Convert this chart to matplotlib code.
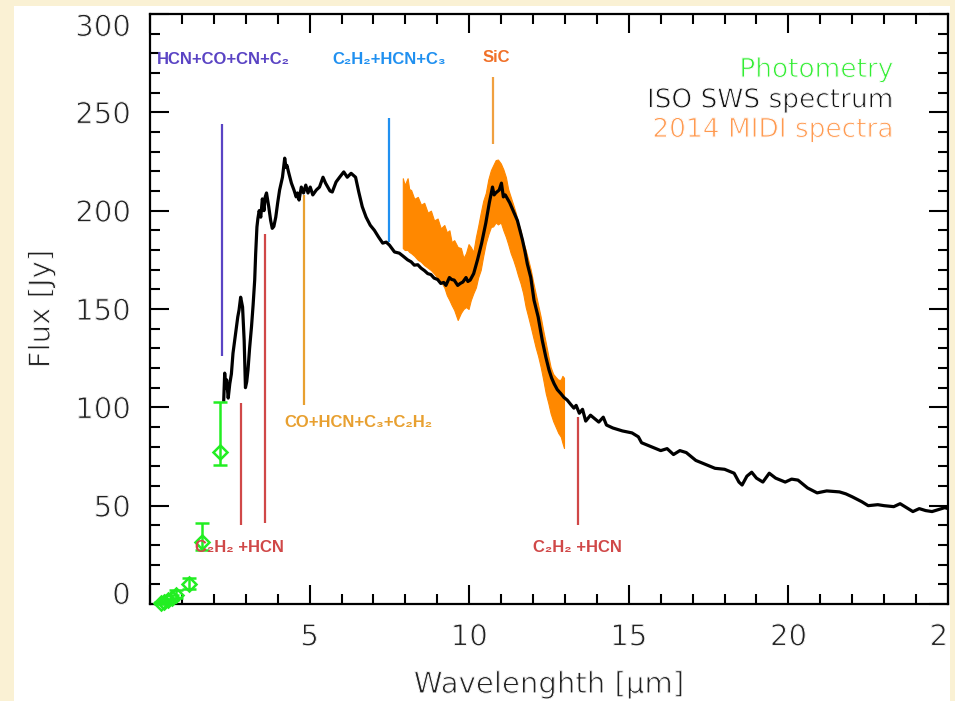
import numpy as np
import matplotlib
matplotlib.use("Agg")
import matplotlib.pyplot as plt
import matplotlib.patheffects as pe
from matplotlib.patches import Rectangle
from matplotlib.ticker import MultipleLocator
from matplotlib.transforms import Bbox, TransformedBbox

# ISO SWS spectrum (wavelength in micron, flux in Jy)
iso_wl = [2.31, 2.34, 2.37, 2.40, 2.45, 2.50, 2.55, 2.60, 2.66, 2.71, 2.75, 2.79, 2.84, 2.90,
          2.95, 2.99, 3.03, 3.07, 3.12, 3.18, 3.23, 3.28, 3.31, 3.35, 3.38, 3.42, 3.47, 3.52,
          3.57, 3.61, 3.65, 3.72, 3.78, 3.83, 3.88, 3.94, 4.00, 4.06, 4.15, 4.22, 4.26, 4.29,
          4.35, 4.43, 4.51, 4.58, 4.62, 4.67, 4.74, 4.81, 4.88, 4.95, 5.02, 5.10, 5.21, 5.31,
          5.42, 5.50, 5.57, 5.64, 5.71, 5.83, 5.94, 6.07, 6.18, 6.30, 6.44, 6.54, 6.65, 6.77,
          6.90, 7.03, 7.16, 7.29, 7.40, 7.50, 7.66, 7.81, 7.92, 8.07, 8.18, 8.28, 8.39, 8.49,
          8.60, 8.70, 8.80, 8.90, 9.01, 9.11, 9.20, 9.27, 9.38, 9.45, 9.53, 9.64, 9.72, 9.80,
          9.90, 9.96, 10.03, 10.14, 10.26, 10.39, 10.52, 10.63, 10.73, 10.78, 10.83, 10.94,
          11.01, 11.07, 11.13, 11.20, 11.27, 11.35, 11.43, 11.51, 11.59, 11.67, 11.75, 11.82,
          11.93, 12.03, 12.16, 12.29, 12.40, 12.50, 12.58, 12.66, 12.76, 12.87, 12.97, 13.07,
          13.18, 13.28, 13.35, 13.45, 13.55, 13.65, 13.80, 13.95, 14.06, 14.20, 14.30, 14.50,
          14.80, 15.10, 15.30, 15.40, 15.70, 16.00, 16.20, 16.40, 16.60, 16.80, 16.95, 17.10,
          17.40, 17.70, 18.00, 18.30, 18.45, 18.55, 18.70, 18.85, 19.00, 19.20, 19.40, 19.60,
          19.90, 20.10, 20.30, 20.60, 20.90, 21.20, 21.60, 21.80, 22.00, 22.30, 22.50, 22.80,
          23.00, 23.30, 23.50, 23.70, 23.90, 24.10, 24.30, 24.50, 24.70, 24.90, 25.10]
iso_flux = [103.7, 117.4, 110, 114, 104.7, 112, 117, 127.5, 135, 141, 146, 149.5, 156, 151,
            134, 110, 113, 119, 130, 141, 152, 164.7, 178, 191.7, 196, 200, 196.7, 206,
            200, 207, 209, 202, 195, 191, 192, 196.7, 204, 210.5, 217, 226.7, 222, 223,
            219, 214, 210.5, 207, 209, 205.4, 212, 209, 213, 209, 212, 208, 210.5, 212,
            217, 214, 212, 210, 209.5, 214.6, 217, 219.7, 217, 219, 217, 209.5, 202, 196.7,
            192.6, 190, 186.6, 183.5, 184, 182.5, 179, 178.4, 177, 175, 174, 172.3, 172.5, 170.8,
            169.5, 168, 167.5, 165.7, 165, 163, 163.5, 162, 166, 165, 164.7, 162, 163, 163.7,
            166, 164, 164.7, 168, 175, 183.5, 193.7, 204, 212, 208, 209, 210.5,
            214, 207, 208, 206, 204, 201, 198, 195, 190, 185, 179, 173,
            166, 154.5, 146, 134, 125.6, 119, 115, 112, 109, 107, 105, 103.7,
            101.5, 99.6, 101, 97, 99, 93, 96, 94, 92.5, 95, 91, 89.5,
            88, 87, 85, 82, 80, 78, 79, 76, 78, 77, 75, 73,
            71, 69, 68.5, 66.5, 62, 60.5, 65, 67, 64, 62, 66.5, 64,
            62, 63.5, 63, 59, 56.5, 57.5, 57, 56, 54.5, 52, 50, 50.5,
            50, 49.5, 51, 49, 47, 48.5, 47.5, 47, 48, 49, 48]

# 2014 MIDI spectra: envelope of the individual spectra
midi_wl = [7.92, 7.98, 8.07, 8.12, 8.18, 8.28, 8.39, 8.49, 8.59, 8.70, 8.80, 8.90, 9.01, 9.11,
           9.22, 9.30, 9.38, 9.45, 9.53, 9.64, 9.74, 9.82, 9.90, 9.98, 10.05, 10.13, 10.21,
           10.28, 10.36, 10.44, 10.52, 10.60, 10.68, 10.75, 10.83, 10.90, 10.99, 11.07, 11.15,
           11.22, 11.30, 11.38, 11.46, 11.53, 11.61, 11.69, 11.77, 11.85, 11.93, 12.00, 12.08,
           12.16, 12.24, 12.32, 12.40, 12.48, 12.55, 12.63, 12.71, 12.79, 12.87, 12.92, 12.97]
midi_hi = [216.5, 213, 216.5, 211, 210.5, 206, 207, 203, 204, 199, 200, 195, 196, 191,
           192.7, 189, 190, 184, 185, 181.5, 181, 176, 178.4, 183, 181.5, 179, 186.6,
           192, 198.8, 205, 209, 216, 220.6, 223, 225.7, 226, 224, 221, 217,
           211, 207, 203, 198.8, 194, 190, 184, 180, 175, 169.8, 164, 158,
           152, 146, 139, 132.7, 126, 120.5, 117, 115.4, 114, 114, 116, 115]
midi_lo = [181, 180, 180, 179, 178.4, 177, 175, 174, 172.3, 171, 169.8, 168, 165.7, 164,
           161, 157, 154.5, 152, 149.5, 144.4, 148, 150, 151, 150, 154.5, 158, 161,
           166, 169.8, 177, 183.5, 188, 191.7, 192, 194, 193, 194, 190, 186.6,
           183, 178.4, 175, 171, 167, 163, 158, 151, 146, 140.8, 136, 130.6,
           126, 120.5, 114, 107, 102, 97, 93, 90, 87, 85, 82, 79.3]

# Photometry
phot_wl = [0.36, 0.44, 0.55, 0.70, 0.80, 1.22, 1.63, 2.19]
phot_flux = [0.5, 1.0, 1.8, 3.0, 4.5, 10.0, 31.7, 77.4]
phot_err_lo = [0.3, 0.5, 0.8, 1.0, 1.5, 2.5, 4.0, 6.7]
phot_err_hi = [0.3, 0.5, 0.8, 1.5, 2.5, 3.4, 9.7, 25.5]

# Molecular band markers: (wavelength, y from, y to)
band_wl = [2.25, 7.5, 10.75, 4.84, 2.84, 3.6, 13.4]
band_lo = [126, 184, 234, 101, 40, 41, 40]
band_hi = [244, 247, 268, 208, 102, 188, 95]
band_col = ['#5a44c4', '#2090f0', '#f0a040', '#e8a030', '#d04848', '#d04848', '#d04848']

fig = plt.figure(figsize=(9.55, 7.01), dpi=100, facecolor='#faf1d4')
fig.patches.append(Rectangle((14 / 955, 0), 936 / 955, 695 / 701, transform=fig.transFigure,
                             facecolor='white', edgecolor='none', zorder=-5))
ax = fig.add_axes([150 / 955, 97 / 701, 798 / 955, 590 / 701])

# thin strokes: draw the glyphs, then eat into their outline with white
thin = [pe.Normal(), pe.Stroke(linewidth=0.7, foreground='white')]
lf = dict(family='DejaVu Sans', path_effects=thin)
txt_col = '#222222'

ax.fill_between(midi_wl, midi_lo, midi_hi, color='#ff8800', lw=0.8, zorder=2)
ax.plot(iso_wl, iso_flux, color='black', lw=2.3, zorder=3)
ax.errorbar(phot_wl, phot_flux, yerr=[phot_err_lo, phot_err_hi], fmt='D', color='#22ee22',
            mfc='none', mec='#22ee22', ms=7, mew=1.8, elinewidth=1.8, capsize=5, capthick=1.8,
            zorder=4, clip_on=False)

ax.vlines(band_wl, band_lo, band_hi, colors=band_col, lw=1.6, zorder=1)

bf = dict(family=['Liberation Sans', 'DejaVu Sans'], weight='bold', fontsize=12, zorder=6)
ax.text(0.22, 277, 'HCN+CO+CN+C₂', color='#5a44c4', ha='left', va='center', **bf)
ax.text(7.5, 277, 'C₂H₂+HCN+C₃', color='#2090f0', ha='center', va='center', **bf)
ax.text(10.84, 278, 'SiC', color='#f07028', ha='center', va='center', **bf)
ax.text(4.22, 92.5, 'CO+HCN+C₃+C₂H₂', color='#e8a030', ha='left', va='center', **bf)
ax.text(2.81, 28.5, 'C₂H₂ +HCN', color='#d04848', ha='center', va='center', **bf)
ax.text(13.38, 28.5, 'C₂H₂ +HCN', color='#d04848', ha='center', va='center', **bf)

ax.text(23.3, 271.5, 'Photometry', color='#33ee33', ha='right', va='center', fontsize=19, **lf)
ax.text(23.3, 256, 'ISO SWS spectrum', color='#111111', ha='right', va='center', fontsize=19, **lf)
ax.text(23.3, 241, '2014 MIDI spectra', color='#ff9a50', ha='right', va='center', fontsize=19, **lf)

ax.set_xlim(0, 25)
ax.set_ylim(0, 300)
ax.set_xticks([0, 5, 10, 15, 20, 25])
ax.set_xticklabels(['', '5', '10', '15', '20', '25'], fontsize=21, color=txt_col, **lf)
ax.set_yticks([0, 50, 100, 150, 200, 250, 300])
ylabs = ax.set_yticklabels(['0', '50', '100', '150', '200', '250', '300'], fontsize=21,
                           color=txt_col, **lf)
ylabs[0].set_va('baseline')
ylabs[-1].set_va('top')
ax.xaxis.set_minor_locator(MultipleLocator(1))
ax.yaxis.set_minor_locator(MultipleLocator(10))
ax.tick_params(which='both', direction='in', top=True, right=True, width=1.5)
ax.tick_params(which='major', length=14, pad=14)
ax.tick_params(which='minor', length=7)
for s in ax.spines.values():
    s.set_linewidth(1.6)

ax.set_xlabel('Wavelenghth [μm]', fontsize=21, color=txt_col, labelpad=14, **lf)
ax.set_ylabel('Flux [Jy]', fontsize=21, color=txt_col, labelpad=14, **lf)

clip = TransformedBbox(Bbox([[14 / 955, 0], [950 / 955, 1]]), fig.transFigure)
for t in ax.xaxis.get_major_ticks():
    t.label1.set_clip_box(clip)
    t.label1.set_clip_on(True)

fig.savefig('out.png', dpi=100, facecolor=fig.get_facecolor())
